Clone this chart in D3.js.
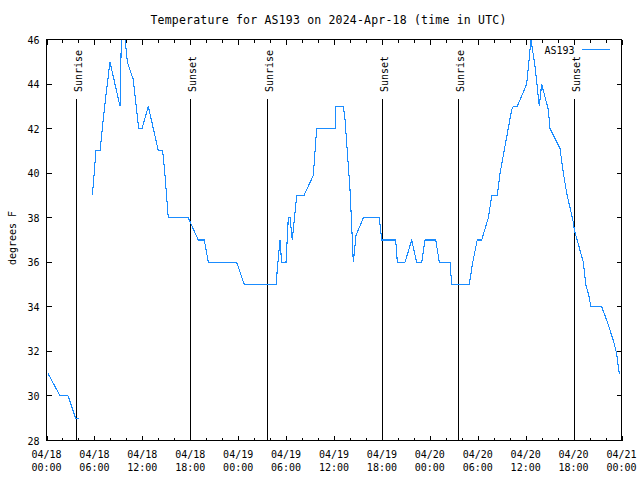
<!DOCTYPE html>
<html>
<head>
<meta charset="utf-8">
<script src="https://cdn.jsdelivr.net/npm/d3@7"></script>
<style>
  html, body { margin: 0; padding: 0; background: #fff; }
  svg { display: block; }
  text { font-family: "DejaVu Sans Mono", monospace; fill: #000; }
</style>
</head>
<body>
<svg id="chart" width="640" height="480"></svg>
<script>
// ---- data (hours since 2024-04-18 00:00 UTC, temperature in F; null = gap) ----
const hours = [0.2, 1.7, 2.7, 3.65, 4.03, null,
  5.74, 6.2, 6.7, 7.28, 7.95, 9.2, 9.4, 9.55, 9.7, 10.12, 10.87, 11.29, 11.54, 11.96,
  12.75, 14.0, 14.55, 14.84, 15.25, 17.76, 18.0, 19.0, 19.76, 20.26, 23.81, 24.77,
  28.74, 29.03, 29.24, 29.44, 29.99, 30.28, 30.49, 30.78, 31.33, 32.24, 33.41, 33.83,
  36.13, 36.25, 37.17, 37.38, 38.0, 38.42, 38.76, 39.67, 41.67, 41.97, 43.72, 43.93,
  44.89, 45.73, 46.35, 46.98, 47.4, 48.74, 49.19, 50.53, 50.74, 52.94, 53.37, 53.94,
  54.49, 55.33, 55.75, 56.45, 56.79, 58.25, 58.46, 58.95, 60.13, 60.67, 61.17, 61.71,
  62.0, 62.84, 63.05, 64.3, 64.72, 65.14, 65.97, 66.1, 67.22, 67.52, 67.85, 68.18,
  69.52, 70.15, 70.97, 71.39, 71.72];
const tempF = [31, 30, 30, 29, 29, null,
  39, 41, 41, 43, 45, 43, 46.5, 47.5, 46.5, 45, 44.2, 42.8, 42, 42,
  43, 41, 41, 39.9, 38, 38, 37.8, 37, 37, 36, 36, 35,
  35, 36.2, 37, 36, 36, 38, 38, 37, 39, 39, 39.9, 42,
  42, 43, 43, 42.4, 39.3, 36, 37.2, 38, 38, 37, 37, 36,
  36, 37, 36, 36, 37, 37, 36, 36, 35, 35, 36, 37,
  37, 38, 39, 39, 40, 42.85, 43, 43, 44, 46, 44.8, 43,
  44, 42.85, 42, 41.1, 40, 39.1, 37.8, 37.45, 36, 35, 34.6, 34,
  34, 33.4, 32.5, 31.9, 31];
const sunEvents = ["Sunrise", "Sunset", "Sunrise", "Sunset", "Sunrise", "Sunset"];
const sunHours = [3.75, 18.0, 27.65, 42.05, 51.57, 66.02];
const xTickHours = [0, 6, 12, 18, 24, 30, 36, 42, 48, 54, 60, 66, 72];
const xTickDates = ["04/18", "04/18", "04/18", "04/18", "04/19", "04/19", "04/19", "04/19", "04/20", "04/20", "04/20", "04/20", "04/21"];
const xTickTimes = ["00:00", "06:00", "12:00", "18:00", "00:00", "06:00", "12:00", "18:00", "00:00", "06:00", "12:00", "18:00", "00:00"];
const yTicks = [28, 30, 32, 34, 36, 38, 40, 42, 44, 46];
const seriesName = "AS193";
const titleText = "Temperature for AS193 on 2024-Apr-18 (time in UTC)";
const yTitle = "degrees F";

// ---- layout ----
const L = 46.5, R = 621.5, T = 39.5, B = 440.5;
const x = d3.scaleLinear().domain([0, 72]).range([L, R]);
const y = d3.scaleLinear().domain([28, 46]).range([B, T]);
const lineColor = "#1a8cff";

const svg = d3.select("#chart");

// clip
svg.append("defs").append("clipPath").attr("id", "plotclip")
  .append("rect").attr("x", L).attr("y", T).attr("width", R - L).attr("height", B - T);

// title
svg.append("text").attr("x", 328.5).attr("y", 24).attr("text-anchor", "middle")
  .style("font-size", "11.5px").style("letter-spacing", "0.2px").text(titleText);

// y title
svg.append("text").attr("transform", "translate(15.5,238) rotate(-90)")
  .attr("text-anchor", "middle").style("font-size", "10px").text(yTitle);

// minor x ticks every 2h
const minorX = d3.range(0, 73, 2);
const axisG = svg.append("g").attr("stroke", "#000").attr("stroke-width", 1).attr("shape-rendering", "crispEdges");
minorX.forEach(h => {
  const len = (h % 6 === 0) ? 5 : 3;
  const xp = Math.round(x(h)) + 0.5;
  axisG.append("line").attr("x1", xp).attr("x2", xp).attr("y1", B).attr("y2", B - len);
  axisG.append("line").attr("x1", xp).attr("x2", xp).attr("y1", T).attr("y2", T + len);
});
yTicks.forEach(v => {
  const yp = Math.round(y(v) - 0.5) + 0.5;
  axisG.append("line").attr("x1", L).attr("x2", L + 5).attr("y1", yp).attr("y2", yp);
  axisG.append("line").attr("x1", R).attr("x2", R - 5).attr("y1", yp).attr("y2", yp);
});

// x tick labels
xTickHours.forEach((h, i) => {
  svg.append("text").attr("x", x(h)).attr("y", 457.5).attr("text-anchor", "middle")
    .style("font-size", "10px").text(xTickDates[i]);
  svg.append("text").attr("x", x(h)).attr("y", 471).attr("text-anchor", "middle")
    .style("font-size", "10px").text(xTickTimes[i]);
});
// y tick labels
yTicks.forEach(v => {
  svg.append("text").attr("x", 39.5).attr("y", y(v) + 4).attr("text-anchor", "end")
    .style("font-size", "10px").text(v);
});

// sunrise / sunset
sunHours.forEach((h, i) => {
  const xp = Math.round(x(h)) + 0.5;
  svg.append("line").attr("x1", xp).attr("x2", xp).attr("y1", 99).attr("y2", B)
    .attr("stroke", "#000").attr("shape-rendering", "crispEdges");
  svg.append("text").attr("transform", `translate(${xp + 5.5},92) rotate(-90)`)
    .attr("text-anchor", "start").style("font-size", "10px").text(sunEvents[i]);
});

// data line
const pts = hours.map((h, i) => [h, tempF[i]]);
const line = d3.line()
  .defined(d => d[0] !== null && d[1] !== null)
  .x(d => x(d[0])).y(d => y(d[1]));
svg.append("path").datum(pts)
  .attr("clip-path", "url(#plotclip)")
  .attr("fill", "none").attr("stroke", lineColor).attr("stroke-width", 1.1)
  .attr("shape-rendering", "crispEdges")
  .attr("d", line);

// frame
svg.append("rect").attr("x", L).attr("y", T).attr("width", R - L).attr("height", B - T)
  .attr("fill", "none").attr("stroke", "#000").attr("shape-rendering", "crispEdges");

// legend
svg.append("text").attr("x", 574.5).attr("y", 53.5).attr("text-anchor", "end")
  .style("font-size", "10px").text(seriesName);
svg.append("line").attr("x1", 582).attr("x2", 610).attr("y1", 49.5).attr("y2", 49.5)
  .attr("stroke", lineColor).attr("shape-rendering", "crispEdges");
</script>
</body>
</html>
